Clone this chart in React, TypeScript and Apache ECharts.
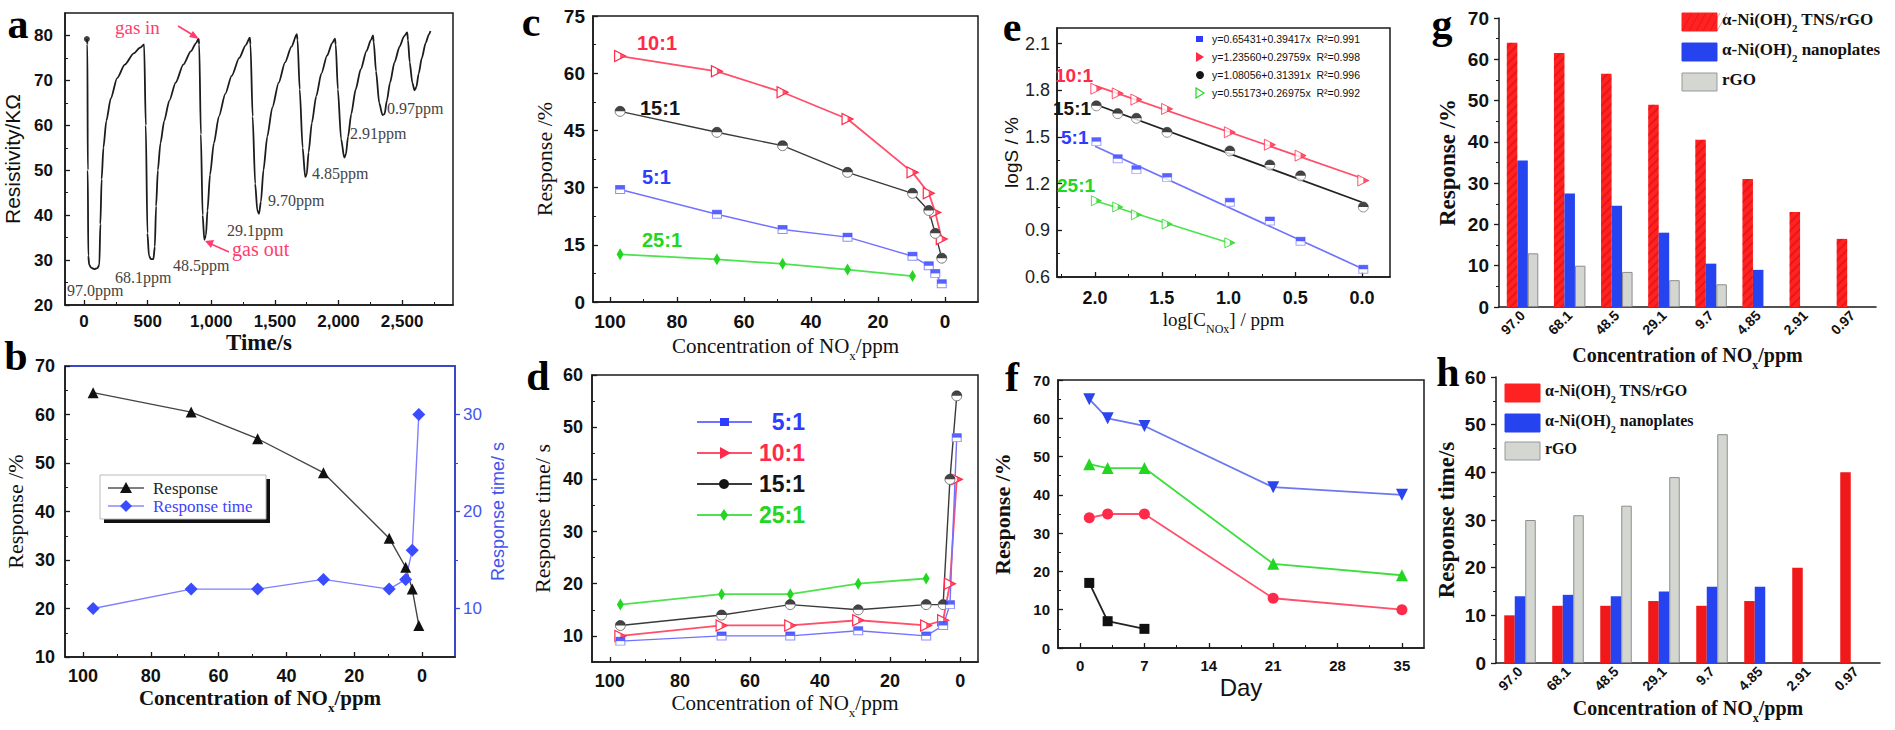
import React, { useEffect, useRef } from "react";
import * as echarts from "echarts";

const SERIF = '"Liberation Serif","Times New Roman","DejaVu Serif",serif';
const SANS = '"Liberation Sans",Arial,"DejaVu Sans",sans-serif';

// ---------- panel a : resistivity vs time ----------
const A_TIME = [
  22, 26, 29, 33, 40, 55, 80, 105, 120, 128, 138, 152, 175, 210, 260, 320, 390, 440, 472,
  485, 498, 510, 525, 545, 556, 566, 580, 600, 630, 670, 720, 780, 840, 880, 900,
  905, 918, 932, 945, 958, 970, 990, 1020, 1060, 1110, 1160, 1220, 1270, 1303,
  1308, 1325, 1345, 1362, 1375, 1390, 1410, 1440, 1480, 1530, 1580, 1630, 1672,
  1678, 1695, 1718, 1738, 1750, 1765, 1790, 1825, 1865, 1910, 1950, 1972,
  1978, 1995, 2020, 2045, 2058, 2075, 2100, 2135, 2175, 2220, 2255, 2271,
  2277, 2295, 2320, 2345, 2362, 2380, 2405, 2440, 2480, 2515, 2540,
  2546, 2560, 2580, 2598, 2612, 2630, 2655, 2685, 2710, 2723,
];
const A_RES = [
  79.2, 78, 50, 31, 29, 28.3, 28, 28.2, 29, 38, 48, 55, 61, 66, 70.5, 73.5, 76, 77.3, 78,
  60, 36, 31, 30.2, 30.2, 33, 42, 50, 56, 61, 65.5, 69.5, 73.5, 76.5, 78.3, 79.3,
  78, 58, 40, 34.5, 35.5, 41, 49, 56, 62, 67, 71, 75, 77.8, 79.5,
  78, 62, 47, 41, 40.3, 43, 50, 57.5, 64, 69.5, 74, 77.5, 80.3,
  79, 68, 55, 48.5, 49, 54, 60.5, 66.5, 71.5, 75.5, 78.3, 79.3,
  78, 68, 57, 52.8, 53.5, 57.5, 62.5, 68, 72.5, 76.5, 79, 80,
  78.5, 72, 65, 62.3, 62.5, 65.5, 69.5, 74, 77.5, 79.8, 80.7,
  79, 74, 69.5, 67.8, 68.5, 71.5, 75, 78.3, 80.2, 81,
];
const A_X_TICKS = [0, 500, 1000, 1500, 2000, 2500];
const A_Y_TICKS = [20, 30, 40, 50, 60, 70, 80];
const A_PPM_LABELS = ["97.0ppm", "68.1ppm", "48.5ppm", "29.1ppm", "9.70ppm", "4.85ppm", "2.91ppm", "0.97ppm"];

// ---------- concentrations shared by b, c, d ----------
const CONC = [97, 68.1, 48.5, 29.1, 9.7, 4.85, 2.91, 0.97];
const CONC_TICKS = [0, 20, 40, 60, 80, 100];

// ---------- panel b ----------
const B_RESPONSE = [64.5, 60.5, 55, 48, 34.5, 28.5, 24, 16.5];
const B_RESP_TIME = [10, 12, 12, 13, 12, 13, 16, 30];

// ---------- panel c (response, %) ----------
const C_10 = [64.5, 60.5, 55, 48, 34, 28.5, 23.5, 16.5];
const C_15 = [50, 44.5, 41, 34, 28.5, 24, 18, 11.5];
const C_5 = [29.5, 23, 19, 17, 12, 9.5, 7.5, 4.8];
const C_25 = [12.5, 11.2, 10, 8.5, 6.8];

// ---------- panel d (response time, s) ----------
const D_5 = [9, 10, 10, 11, 10, 12, 16, 48];
const D_10 = [10, 12, 12, 13, 12, 13, 20, 40];
const D_15 = [12, 14, 16, 15, 16, 16, 40, 56];
const D_25 = [16, 18, 18, 20, 21];

// ---------- panel e (log-log) ----------
const E_X = [1.99, 1.83, 1.69, 1.46, 0.99, 0.69, 0.46, -0.01];
const E_10 = [1.81, 1.78, 1.74, 1.68, 1.53, 1.45, 1.38, 1.22];
const E_15 = [1.7, 1.65, 1.62, 1.53, 1.41, 1.32, 1.25, 1.05];
const E_5 = [1.47, 1.36, 1.29, 1.24, 1.08, 0.96, 0.83, 0.65];
const E_25 = [1.09, 1.05, 1.0, 0.94, 0.82];
const E_FIT_X = [2.0, 0.0];
const E_FIT_X_25 = [2.0, 1.0];
const E_FIT_10 = [1.83, 1.235];
const E_FIT_15 = [1.71, 1.08];
const E_FIT_5 = [1.44, 0.655];
const E_FIT_25 = [1.09, 0.82];
const E_EQ = [
  "y=0.65431+0.39417x  R²=0.991",
  "y=1.23560+0.29759x  R²=0.998",
  "y=1.08056+0.31391x  R²=0.996",
  "y=0.55173+0.26975x  R²=0.992",
];

// ---------- panel f (stability) ----------
const F_DAY = [1, 3, 7, 21, 35];
const F_BLUE = [65, 60, 58, 42, 40];
const F_GREEN = [48, 47, 47, 22, 19];
const F_RED = [34, 35, 35, 13, 10];
const F_BLACK = [17, 7, 5];
const F_X_TICKS = [0, 7, 14, 21, 28, 35];

// ---------- panels g, h (bars) ----------
const GH_CATS = ["97.0", "68.1", "48.5", "29.1", "9.7", "4.85", "2.91", "0.97"];
const G_RED = [64, 61.5, 56.5, 49, 40.5, 31, 23, 16.5];
const G_BLUE = [35.5, 27.5, 24.5, 18, 10.5, 9, null, null];
const G_GRAY = [13, 10, 8.5, 6.5, 5.5, null, null, null];
const H_RED = [10, 12, 12, 13, 12, 13, 20, 40];
const H_BLUE = [14, 14.3, 14, 15, 16, 16, null, null];
const H_GRAY = [30, 31, 33, 39, 48, null, null, null];

const RED = "#ff2a4a";
const RED_LINE = "#ff4f6a";
const BLUE = "#2d3cff";
const BLUE_LINE = "#7272ff";
const BLACK = "#151515";
const BLACK_LINE = "#3a3a3a";
const GREEN = "#22d622";
const GREEN_LINE = "#4ee24e";

const HALF_CIRCLE = "path://M0,10A10,10,0,0,1,20,10Z";
const TRI_RIGHT = "path://M0,0L10,5L0,10Z";

function nameStyle(size: number, weight = "normal", color = "#111", family = SERIF) {
  return {
    fontFamily: family,
    fontSize: size,
    fontWeight: weight,
    color,
    rich: {
      n: { fontFamily: family, fontSize: size, fontWeight: weight, color, lineHeight: size + 6, verticalAlign: "top" },
      sub: { fontFamily: family, fontSize: Math.round(size * 0.62), fontWeight: weight, color, lineHeight: Math.round(size * 0.62), verticalAlign: "bottom" },
    },
  };
}

function valAxis(o: any) {
  const color = o.color || "#1a1a1a";
  return {
    type: "value",
    gridIndex: o.grid,
    position: o.position,
    min: o.min,
    max: o.max,
    inverse: !!o.inverse,
    name: o.name || "",
    nameLocation: "middle",
    nameGap: o.nameGap ?? 30,
    nameTextStyle: o.nameStyle,
    axisLine: { show: o.showLine !== false, onZero: false, lineStyle: { color, width: 1.5 } },
    axisTick: {
      show: o.ticks !== undefined,
      inside: o.tickInside !== false,
      length: 5,
      customValues: o.ticks,
      lineStyle: { color, width: 1.3 },
    },
    axisLabel: {
      show: o.showLabels !== false,
      customValues: o.ticks,
      margin: o.margin ?? 8,
      formatter: o.formatter,
      fontFamily: SANS,
      fontWeight: o.labelWeight || "bold",
      fontSize: o.labelSize || 17,
      color: o.labelColor || "#111",
    },
    splitLine: { show: false },
    z: 4,
  };
}

function minorAxis(grid: number, min: number, max: number, inverse: boolean, position: string, values: number[], color = "#1a1a1a", inside = true) {
  return {
    type: "value",
    gridIndex: grid,
    position,
    min,
    max,
    inverse,
    axisLine: { show: false, onZero: false },
    axisLabel: { show: false },
    splitLine: { show: false },
    axisTick: { show: true, inside, length: 3, customValues: values, lineStyle: { color, width: 1 } },
  };
}

function pairs(xs: number[], ys: (number | null)[]) {
  return ys.map((y, i) => [xs[i], y]);
}

function buildOption() {
  const grid: any[] = [];
  const xAxis: any[] = [];
  const yAxis: any[] = [];
  const series: any[] = [];
  const els: any[] = [];

  const G = (left: number, top: number, width: number, height: number, frame: boolean) => {
    grid.push({ left, top, width, height, show: frame, borderColor: "#1a1a1a", borderWidth: 1.5, backgroundColor: "transparent", containLabel: false, outerBoundsMode: "none" });
    return grid.length - 1;
  };
  const X = (a: any) => { xAxis.push(a); return xAxis.length - 1; };
  const Y = (a: any) => { yAxis.push(a); return yAxis.length - 1; };

  const text = (x: number, y: number, t: string, st: any) =>
    els.push({ type: "text", x, y, z: 50, style: { text: t, verticalAlign: "middle", align: "left", ...st } });

  const letter = (x: number, y: number, t: string) =>
    text(x, y, t, { fontFamily: SERIF, fontSize: 42, fontWeight: "bold", fill: "#000", align: "center" });

  const concName = "{n|Concentration of NO}{sub|x}{n|/ppm}";

  // half-filled marker overlays (Origin style)
  const overlay = (xi: number, yi: number, data: any[], symbol: string, size: any, offset: number[], color: string) =>
    series.push({ type: "scatter", xAxisIndex: xi, yAxisIndex: yi, data, symbol, symbolSize: size, symbolOffset: offset, itemStyle: { color }, z: 7, silent: true });

  // ================= a =================
  const gA = G(65, 13, 388, 292, true);
  const xA = X(valAxis({ grid: gA, min: -150, max: 2900, ticks: A_X_TICKS, name: "Time/s", nameGap: 22, nameStyle: nameStyle(23, "bold"), margin: 8, labelSize: 17 }));
  const yA = Y(valAxis({ grid: gA, min: 20, max: 85, ticks: A_Y_TICKS, name: "Resistivity/KΩ", nameGap: 42, nameStyle: nameStyle(21, "normal", "#111", SANS), margin: 12, labelSize: 17 }));
  X(minorAxis(gA, -150, 2900, false, "bottom", [250, 750, 1250, 1750, 2250, 2750]));
  Y(minorAxis(gA, 20, 85, false, "left", [25, 35, 45, 55, 65, 75]));
  series.push({
    type: "line", xAxisIndex: xA, yAxisIndex: yA, data: pairs(A_TIME, A_RES), showSymbol: false,
    smooth: 0.25, smoothMonotone: "x", lineStyle: { color: "#1c1c1c", width: 1.8 }, z: 3,
  });
  series.push({
    type: "scatter", xAxisIndex: xA, yAxisIndex: yA, data: [[A_TIME[0], A_RES[0]]], symbolSize: 6,
    itemStyle: { color: "#111" },
  });
  const ppmPos = [[67, 290], [115, 277], [173, 265], [227, 230], [268, 200], [312, 173], [350, 133], [387, 108]];
  A_PPM_LABELS.forEach((t, i) => text(ppmPos[i][0], ppmPos[i][1], t, { fontFamily: SERIF, fontSize: 16, fill: "#444" }));
  text(115, 27, "gas in", { fontFamily: SERIF, fontSize: 19, fill: "#ff3d6e" });
  els.push({ type: "line", z: 50, shape: { x1: 178, y1: 26, x2: 193, y2: 35 }, style: { stroke: "#ff3d6e", lineWidth: 1.6 } });
  els.push({ type: "polygon", z: 50, shape: { points: [[199, 39], [189, 37], [193, 31]] }, style: { fill: "#ff3d6e" } });
  text(232, 249, "gas out", { fontFamily: SERIF, fontSize: 20, fill: "#ff3d6e" });
  els.push({ type: "line", z: 50, shape: { x1: 229, y1: 252, x2: 211, y2: 244 }, style: { stroke: "#ff3d6e", lineWidth: 1.6 } });
  els.push({ type: "polygon", z: 50, shape: { points: [[205, 241], [214, 240], [211, 248]] }, style: { fill: "#ff3d6e" } });
  letter(18, 24, "a");

  // ================= b =================
  const gB = G(65, 366, 390, 291, true);
  const xB = X(valAxis({ grid: gB, min: -9.7, max: 105.3, inverse: true, ticks: CONC_TICKS, name: concName, nameGap: 30, nameStyle: nameStyle(21, "bold"), margin: 10, labelSize: 18 }));
  X(valAxis({ grid: gB, position: "top", min: -9.7, max: 105.3, inverse: true, showLabels: false, color: "#3344ee" }));
  X(minorAxis(gB, -9.7, 105.3, true, "bottom", [10, 30, 50, 70, 90]));
  const yB = Y(valAxis({ grid: gB, min: 10, max: 70, ticks: [10, 20, 30, 40, 50, 60, 70], name: "Response /%", nameGap: 39, nameStyle: nameStyle(22), margin: 10, labelSize: 18 }));
  Y(minorAxis(gB, 10, 70, false, "left", [15, 25, 35, 45, 55, 65]));
  const yB2 = Y(valAxis({
    grid: gB, position: "right", min: 5, max: 35, ticks: [10, 20, 30], color: "#3344ee", tickInside: false,
    name: "Response time/ s", nameGap: 34, nameStyle: nameStyle(18, "normal", "#4455ee", SANS),
    margin: 8, labelWeight: "normal", labelColor: "#4455ee", labelSize: 17,
  }));
  Y(minorAxis(gB, 5, 35, false, "right", [15, 25], "#3344ee", false));
  series.push({
    name: "Response", type: "line", xAxisIndex: xB, yAxisIndex: yB, data: pairs(CONC, B_RESPONSE),
    symbol: "triangle", symbolSize: 11, itemStyle: { color: "#111" }, lineStyle: { color: "#444", width: 1.4 },
  });
  series.push({
    name: "Response time", type: "line", xAxisIndex: xB, yAxisIndex: yB2, data: pairs(CONC, B_RESP_TIME),
    symbol: "diamond", symbolSize: 13, itemStyle: { color: "#3a4cff" }, lineStyle: { color: "#7f7fff", width: 1.4 },
  });
  // legend of b
  els.push({ type: "rect", z: 48, shape: { x: 104, y: 479, width: 166, height: 44 }, style: { fill: "#111" } });
  els.push({ type: "rect", z: 49, shape: { x: 100, y: 475, width: 166, height: 44 }, style: { fill: "#fff", stroke: "#bbb", lineWidth: 1 } });
  els.push({ type: "line", z: 50, shape: { x1: 108, y1: 488, x2: 144, y2: 488 }, style: { stroke: "#555", lineWidth: 1.6 } });
  els.push({ type: "polygon", z: 51, shape: { points: [[126, 482], [132, 493], [120, 493]] }, style: { fill: "#111" } });
  text(153, 488, "Response", { fontFamily: SERIF, fontSize: 17, fill: "#222" });
  els.push({ type: "line", z: 50, shape: { x1: 108, y1: 506, x2: 144, y2: 506 }, style: { stroke: "#8a8aff", lineWidth: 1.6 } });
  els.push({ type: "polygon", z: 51, shape: { points: [[126, 500], [132, 506], [126, 512], [120, 506]] }, style: { fill: "#3a4cff" } });
  text(153, 506, "Response time", { fontFamily: SERIF, fontSize: 17, fill: "#3f3fff" });
  letter(16, 356, "b");

  // ================= c =================
  const gC = G(593, 16, 385, 286, true);
  const xC = X(valAxis({ grid: gC, min: -9.85, max: 105.1, inverse: true, ticks: CONC_TICKS, name: concName, nameGap: 33, nameStyle: nameStyle(21), margin: 10, labelSize: 19 }));
  X(minorAxis(gC, -9.85, 105.1, true, "bottom", [10, 30, 50, 70, 90]));
  const yC = Y(valAxis({ grid: gC, min: 0, max: 75, ticks: [0, 15, 30, 45, 60, 75], name: "Response /%", nameGap: 38, nameStyle: nameStyle(22), margin: 8, labelSize: 19 }));
  Y(minorAxis(gC, 0, 75, false, "left", [7.5, 22.5, 37.5, 52.5, 67.5]));
  const ratioSeries = (xi: number, yi: number, d10: number[], d15: number[], d5: number[], d25: number[], xs: number[]) => {
    const p10 = pairs(xs, d10), p15 = pairs(xs, d15), p5 = pairs(xs, d5), p25 = pairs(xs, d25);
    series.push({ type: "line", xAxisIndex: xi, yAxisIndex: yi, data: p10, symbol: "triangle", symbolRotate: -90, symbolSize: 11, itemStyle: { color: "#fff", borderColor: RED, borderWidth: 1.2 }, lineStyle: { color: RED_LINE, width: 1.8 } });
    overlay(xi, yi, p10, TRI_RIGHT, [5.5, 5.5], [2.75, 0], RED);
    series.push({ type: "line", xAxisIndex: xi, yAxisIndex: yi, data: p15, symbol: "circle", symbolSize: 10, itemStyle: { color: "#fff", borderColor: "#777", borderWidth: 1 }, lineStyle: { color: BLACK_LINE, width: 1.4 } });
    overlay(xi, yi, p15, HALF_CIRCLE, [10, 5], [0, -2.5], BLACK);
    series.push({ type: "line", xAxisIndex: xi, yAxisIndex: yi, data: p5, symbol: "rect", symbolSize: [9, 8], itemStyle: { color: "#fff", borderColor: "#8f8fff", borderWidth: 1 }, lineStyle: { color: BLUE_LINE, width: 1.4 } });
    overlay(xi, yi, p5, "rect", [9, 4], [0, -2], BLUE);
    series.push({ type: "line", xAxisIndex: xi, yAxisIndex: yi, data: p25, symbol: "diamond", symbolSize: [7, 12], itemStyle: { color: GREEN }, lineStyle: { color: GREEN_LINE, width: 1.8 } });
  };
  ratioSeries(xC, yC, C_10, C_15, C_5, C_25, CONC);
  const lblStyle = (fill: string, size = 20) => ({ fontFamily: SANS, fontWeight: "bold", fontSize: size, fill });
  text(637, 43, "10:1", lblStyle(RED));
  text(640, 108, "15:1", lblStyle(BLACK));
  text(642, 177, "5:1", lblStyle(BLUE));
  text(642, 240, "25:1", lblStyle(GREEN));
  letter(531, 22, "c");

  // ================= d =================
  const gD = G(592, 375, 386, 287, true);
  const xD = X(valAxis({ grid: gD, min: -5.1, max: 105.1, inverse: true, ticks: CONC_TICKS, name: concName, nameGap: 30, nameStyle: nameStyle(21), margin: 10, labelSize: 18 }));
  X(minorAxis(gD, -5.1, 105.1, true, "bottom", [10, 30, 50, 70, 90]));
  const yD = Y(valAxis({ grid: gD, min: 5, max: 60, ticks: [10, 20, 30, 40, 50, 60], name: "Response time/ s", nameGap: 39, nameStyle: nameStyle(22), margin: 9, labelSize: 18 }));
  Y(minorAxis(gD, 5, 60, false, "left", [15, 25, 35, 45, 55]));
  ratioSeries(xD, yD, D_10, D_15, D_5, D_25, CONC);
  // d legend (order 5:1, 10:1, 15:1, 25:1)
  const dl = [
    { y: 422, t: "5:1", line: BLUE_LINE, fill: BLUE, sym: "rect" },
    { y: 453, t: "10:1", line: RED_LINE, fill: RED, sym: "tri" },
    { y: 484, t: "15:1", line: BLACK_LINE, fill: BLACK, sym: "circle" },
    { y: 515, t: "25:1", line: GREEN_LINE, fill: GREEN, sym: "diamond" },
  ];
  dl.forEach((e) => {
    els.push({ type: "line", z: 50, shape: { x1: 697, y1: e.y, x2: 752, y2: e.y }, style: { stroke: e.line, lineWidth: 1.8 } });
    if (e.sym === "rect") els.push({ type: "rect", z: 51, shape: { x: 720, y: e.y - 4, width: 9, height: 8 }, style: { fill: e.fill } });
    if (e.sym === "tri") els.push({ type: "polygon", z: 51, shape: { points: [[720, e.y - 6], [731, e.y], [720, e.y + 6]] }, style: { fill: e.fill } });
    if (e.sym === "circle") els.push({ type: "circle", z: 51, shape: { cx: 724, cy: e.y, r: 5 }, style: { fill: e.fill } });
    if (e.sym === "diamond") els.push({ type: "polygon", z: 51, shape: { points: [[724, e.y - 6], [728, e.y], [724, e.y + 6], [720, e.y]] }, style: { fill: e.fill } });
    text(805, e.y, e.t, { ...lblStyle(e.fill, 23), align: "right" });
  });
  letter(538, 376, "d");

  // ================= e =================
  const gE = G(1057, 28, 333, 249, true);
  const xE = X(valAxis({
    grid: gE, min: -0.21, max: 2.285, inverse: true, ticks: [0, 0.5, 1, 1.5, 2],
    formatter: (v: number) => v.toFixed(1), name: "{n|log[C}{sub|NOx}{n|] / ppm}", nameGap: 33,
    nameStyle: nameStyle(19), margin: 12, labelSize: 18,
  }));
  X(minorAxis(gE, -0.21, 2.285, true, "bottom", [0.25, 0.75, 1.25, 1.75, 2.25]));
  const yE = Y(valAxis({
    grid: gE, min: 0.6, max: 2.2, ticks: [0.6, 0.9, 1.2, 1.5, 1.8, 2.1], formatter: (v: number) => v.toFixed(1),
    name: "logS / %", nameGap: 32, nameStyle: nameStyle(19, "normal", "#111", SANS), margin: 7, labelWeight: "normal", labelSize: 18, labelColor: "#222",
  }));
  Y(minorAxis(gE, 0.6, 2.2, false, "left", [0.75, 1.05, 1.35, 1.65, 1.95]));
  const fit = (xs: number[], ys: number[], color: string) =>
    series.push({ type: "line", xAxisIndex: xE, yAxisIndex: yE, data: pairs(xs, ys), showSymbol: false, lineStyle: { color, width: 1.7 } });
  fit(E_FIT_X, E_FIT_10, RED_LINE);
  fit(E_FIT_X, E_FIT_15, "#222");
  fit(E_FIT_X, E_FIT_5, BLUE_LINE);
  fit(E_FIT_X_25, E_FIT_25, GREEN_LINE);
  const sc = (ys: number[], symbol: string, fill: string, border: string, size: any, rot = 0) =>
    series.push({ type: "scatter", xAxisIndex: xE, yAxisIndex: yE, data: pairs(E_X, ys), symbol, symbolRotate: rot, symbolSize: size, itemStyle: { color: fill, borderColor: border, borderWidth: 1 }, z: 5 });
  sc(E_5, "rect", "#fff", "#8f8fff", [9, 8]);
  overlay(xE, yE, pairs(E_X, E_5), "rect", [9, 4], [0, -2], BLUE);
  sc(E_10, "triangle", "#fff", RED, 11, -90);
  overlay(xE, yE, pairs(E_X, E_10), TRI_RIGHT, [5.5, 5.5], [2.75, 0], RED);
  sc(E_15, "circle", "#fff", "#777", 10);
  overlay(xE, yE, pairs(E_X, E_15), HALF_CIRCLE, [10, 5], [0, -2.5], BLACK);
  sc(E_25, "triangle", "#fff", GREEN, 10, -90);
  overlay(xE, yE, pairs(E_X, E_25), TRI_RIGHT, [5, 5], [2.5, 0], GREEN);
  const eRows = [39, 57, 75, 93];
  els.push({ type: "rect", z: 51, shape: { x: 1196, y: eRows[0] - 3, width: 7, height: 6 }, style: { fill: BLUE } });
  els.push({ type: "polygon", z: 51, shape: { points: [[1196, eRows[1] - 5], [1204, eRows[1]], [1196, eRows[1] + 5]] }, style: { fill: RED } });
  els.push({ type: "circle", z: 51, shape: { cx: 1200, cy: eRows[2], r: 4 }, style: { fill: BLACK } });
  els.push({ type: "polygon", z: 51, shape: { points: [[1196, eRows[3] - 5], [1204, eRows[3]], [1196, eRows[3] + 5]] }, style: { fill: "#fff", stroke: GREEN, lineWidth: 1.2 } });
  E_EQ.forEach((t, i) => text(1212, eRows[i], t, { fontFamily: SANS, fontSize: 10.5, fill: "#111" }));
  text(1055, 75, "10:1", lblStyle(RED, 19));
  text(1053, 108, "15:1", lblStyle(BLACK, 19));
  text(1061, 137, "5:1", lblStyle(BLUE, 19));
  text(1057, 185, "25:1", lblStyle(GREEN, 19));
  letter(1012, 27, "e");

  // ================= f =================
  const gF = G(1058, 380, 366, 268, true);
  const xF = X(valAxis({ grid: gF, min: -2.4, max: 37.4, ticks: F_X_TICKS, name: "Day", nameGap: 27, nameStyle: nameStyle(24, "normal", "#111", SANS), margin: 10, labelSize: 15 }));
  X(minorAxis(gF, -2.4, 37.4, false, "bottom", [3.5, 10.5, 17.5, 24.5, 31.5]));
  const yF = Y(valAxis({ grid: gF, min: 0, max: 70, ticks: [0, 10, 20, 30, 40, 50, 60, 70], name: "Response /%", nameGap: 45, nameStyle: nameStyle(22, "bold"), margin: 8, labelSize: 15 }));
  Y(minorAxis(gF, 0, 70, false, "left", [5, 15, 25, 35, 45, 55, 65]));
  const fLine = (ys: number[], symbol: string, color: string, line: string, size: number, rot = 0) =>
    series.push({ type: "line", xAxisIndex: xF, yAxisIndex: yF, data: pairs(F_DAY, ys), symbol, symbolRotate: rot, symbolSize: size, itemStyle: { color }, lineStyle: { color: line, width: 1.8 } });
  fLine(F_BLUE, "triangle", "#2a44ee", "#6b78ee", 12, 180);
  fLine(F_GREEN, "triangle", "#22d622", "#3ede3e", 12);
  fLine(F_RED, "circle", "#ff2a4a", "#ff4f6a", 11);
  fLine(F_BLACK, "rect", "#111", "#222", 10);
  letter(1012, 377, "f");

  // ================= g =================
  const catAxis = (grid: number, nameGap: number) => ({
    type: "category", gridIndex: grid, data: GH_CATS,
    name: concName, nameLocation: "middle", nameGap, nameTextStyle: nameStyle(20, "bold"),
    axisLine: { show: true, lineStyle: { color: "#1a1a1a", width: 1.6 } },
    axisTick: { show: false },
    axisLabel: { interval: 0, rotate: 45, margin: 6, fontFamily: SANS, fontWeight: "bold", fontSize: 14, color: "#111" },
    splitLine: { show: false },
  });
  const gG = G(1499, 18, 377, 289, false);
  const xG = X(catAxis(gG, 38));
  const yG = Y(valAxis({ grid: gG, min: 0, max: 70, ticks: [0, 10, 20, 30, 40, 50, 60, 70], tickInside: false, name: "Response /%", nameGap: 40, nameStyle: nameStyle(23, "bold"), margin: 10, labelSize: 19 }));
  Y(minorAxis(gG, 0, 70, false, "left", [5, 15, 25, 35, 45, 55, 65], "#1a1a1a", false));
  const bar = (xi: number, yi: number, data: any[], color: string, extra: any = {}) =>
    series.push({ type: "bar", xAxisIndex: xi, yAxisIndex: yi, data, barWidth: 10.5, barGap: "0%", itemStyle: { color, ...extra } });
  bar(xG, yG, G_RED, "#ff2222", { decal: { symbol: "rect", symbolSize: 1, dashArrayX: [1, 0], dashArrayY: [2, 4], rotation: -Math.PI / 4, color: "rgba(190,0,0,0.35)" } });
  bar(xG, yG, G_BLUE, "#2643f0");
  bar(xG, yG, G_GRAY, "#d3d6d1", { borderColor: "#8d8d8d", borderWidth: 1 });
  const legendGH = (x: number, rows: number[], size: number, hatch: boolean) => {
    const items = [
      { fill: "#ff2222", t: "{a|α-Ni(OH)}{s|2}{a| TNS/rGO}" },
      { fill: "#2643f0", t: "{a|α-Ni(OH)}{s|2}{a| nanoplates}" },
      { fill: "#d3d6d1", t: "{a|rGO}" },
    ];
    items.forEach((it, i) => {
      els.push({ type: "rect", z: 50, shape: { x, y: rows[i] - 9, width: 35, height: 18 }, style: { fill: it.fill, stroke: i === 2 ? "#999" : it.fill, lineWidth: 1 } });
      if (hatch && i === 0) {
        for (let k = 0; k < 6; k++) {
          els.push({ type: "line", z: 51, shape: { x1: x + k * 7, y1: rows[i] + 9, x2: x + k * 7 + 10, y2: rows[i] - 9 }, style: { stroke: "rgba(190,0,0,0.35)", lineWidth: 1 } });
        }
      }
      els.push({
        type: "text", x: x + 40, y: rows[i], z: 50,
        style: {
          text: it.t, verticalAlign: "middle", align: "left",
          rich: {
            a: { fontFamily: SERIF, fontWeight: "bold", fontSize: size, fill: "#111", lineHeight: size + 6, verticalAlign: "top" },
            s: { fontFamily: SERIF, fontWeight: "bold", fontSize: Math.round(size * 0.65), fill: "#111", lineHeight: Math.round(size * 0.65), verticalAlign: "bottom" },
          },
        },
      });
    });
  };
  legendGH(1682, [22, 52, 82], 17, true);
  letter(1442, 24, "g");

  // ================= h =================
  const gH = G(1496, 377, 384, 286, false);
  const xH = X(catAxis(gH, 35));
  const yH = Y(valAxis({ grid: gH, min: 0, max: 60, ticks: [0, 10, 20, 30, 40, 50, 60], tickInside: false, name: "Response time/s", nameGap: 38, nameStyle: nameStyle(23, "bold"), margin: 10, labelSize: 19 }));
  Y(minorAxis(gH, 0, 60, false, "left", [5, 15, 25, 35, 45, 55], "#1a1a1a", false));
  bar(xH, yH, H_RED, "#f01818");
  bar(xH, yH, H_BLUE, "#2643f0");
  bar(xH, yH, H_GRAY, "#d3d6d1", { borderColor: "#8d8d8d", borderWidth: 1 });
  legendGH(1505, [393, 423, 451], 16, false);
  letter(1448, 372, "h");

  return {
    animation: false,
    backgroundColor: "#ffffff",
    grid,
    xAxis,
    yAxis,
    series,
    graphic: { elements: els },
  };
}

export default function App() {
  const ref = useRef<HTMLDivElement>(null);
  useEffect(() => {
    document.body.style.margin = "0";
    const chart = echarts.init(ref.current as HTMLDivElement, null, { renderer: "svg" });
    chart.setOption(buildOption() as any);
    return () => chart.dispose();
  }, []);
  return <div ref={ref} style={{ width: 1895, height: 730, background: "#fff" }} />;
}
